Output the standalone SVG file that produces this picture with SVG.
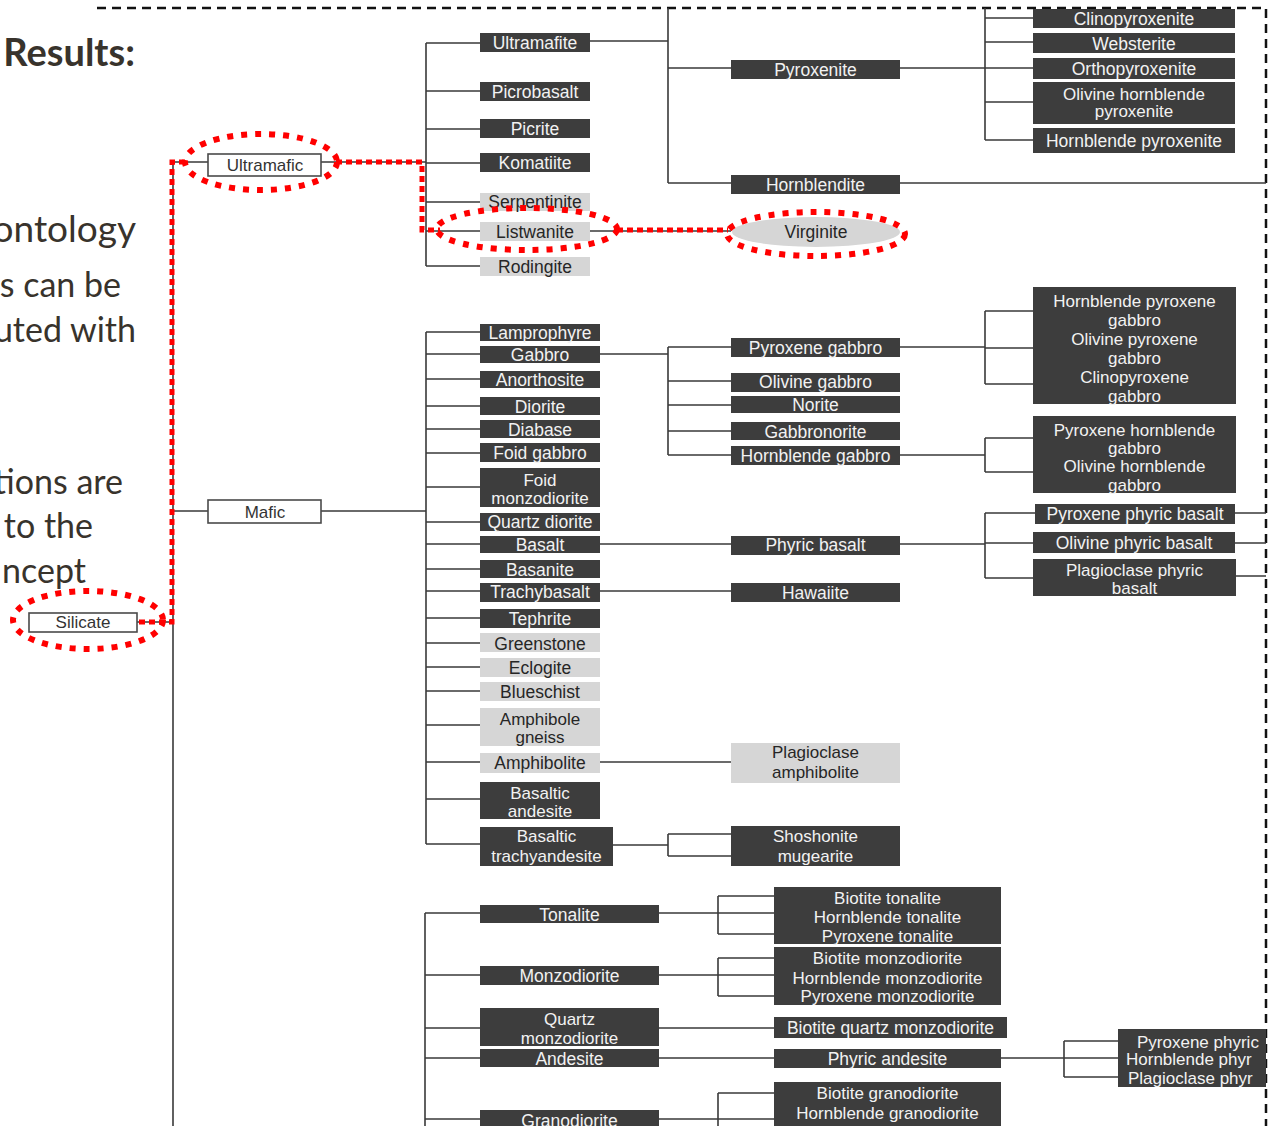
<svg xmlns="http://www.w3.org/2000/svg" width="1274" height="1126" viewBox="0 0 1274 1126">
  <defs>
    <style>
      .slide { font-family: Lato, "Open Sans", sans-serif; fill: #38332c; }
      .n text { font-family: "Liberation Sans", Arial, sans-serif; font-size: 17.5px; text-anchor: middle; }
      .n text.ml { font-size: 17px; }
      .dk rect { fill: #3d3d3d; }
      .dk text { fill: #f2f2f2; }
      .lt rect, .lt ellipse { fill: #d6d6d6; }
      .lt text { fill: #262626; }
      .wt rect { fill: #ffffff; stroke: #4a4a4a; stroke-width: 1.6; }
      .wt text { fill: #333333; font-size: 17px; }
      .ln { fill: none; stroke: #3a3a3a; stroke-width: 1.6; }
      .frame { fill: none; stroke: #111111; stroke-width: 2.5; stroke-dasharray: 9 6; }
      .hl { fill: none; stroke: #ff0000; stroke-width: 6; stroke-dasharray: 6 8; }
      .hlpath { fill: none; stroke: #ff0000; stroke-width: 5; stroke-dasharray: 6 4; }
    </style>
    <clipPath id="frameClip">
      <rect x="0" y="0" width="1266" height="1126"/>
    </clipPath>
  </defs>

  <rect x="0" y="0" width="1274" height="1126" fill="#ffffff"/>

  <!-- slide text beside the tree -->
  <g id="slide-text">
    <text class="slide" x="135" y="66" font-size="38" font-weight="bold" text-anchor="end">Results:</text>
    <text class="slide" x="136" y="242" font-size="37" text-anchor="end">ontology</text>
    <text class="slide" x="121" y="297" font-size="34" text-anchor="end">s can be</text>
    <text class="slide" x="136" y="342" font-size="34" text-anchor="end">uted with</text>
    <text class="slide" x="123" y="494" font-size="34" text-anchor="end">tions are</text>
    <text class="slide" x="93" y="538" font-size="34" text-anchor="end">to the</text>
    <text class="slide" x="86" y="583" font-size="34" text-anchor="end">ncept</text>
  </g>

  <!-- dashed frame -->
  <path class="frame" d="M97,8 H1266 V1126"/>

  <!-- tree connectors -->
  <g id="connectors" class="ln">
    <path d="M137,622 H173 M173,162 V1126 M173,162 H208 M173,511 H208"/>
    <!-- ultramafic branch -->
    <path d="M321,162 H426 M426,43 V266 M426,43 H480 M426,91 H480 M426,129 H480 M426,163 H480 M426,202 H480 M426,231 H480 M426,266 H480"/>
    <path d="M590,41 H668 M668,8 V183 M668,68 H731 M668,183 H731"/>
    <path d="M900,68 H985 M985,8 V140 M985,18 H1033 M985,42 H1033 M985,68 H1033 M985,102 H1033 M985,140 H1033"/>
    <path d="M900,183 H1266"/>
    <path d="M590,231 H731"/>
    <!-- mafic branch -->
    <path d="M321,511 H426 M426,332 V844 M426,332 H480 M426,354 H480 M426,379 H480 M426,406 H480 M426,429 H480 M426,453 H480 M426,487 H480 M426,522 H480 M426,544 H480 M426,569 H480 M426,591 H480 M426,618 H480 M426,643 H480 M426,667 H480 M426,691 H480 M426,725 H480 M426,762 H480 M426,799 H480 M426,844 H480"/>
    <path d="M600,354 H668 M668,347 V455 M668,347 H731 M668,381 H731 M668,405 H731 M668,431 H731 M668,455 H731"/>
    <path d="M900,347 H985 M985,311 V384 M985,311 H1033 M985,348 H1033 M985,384 H1033"/>
    <path d="M900,455 H985 M985,438 V472 M985,438 H1033 M985,472 H1033"/>
    <path d="M600,544 H731 M900,544 H985 M985,513 V578 M985,513 H1035 M985,543 H1033 M985,578 H1033"/>
    <path d="M1235,513 H1266 M1235,543 H1266 M1236,576 H1266"/>
    <path d="M600,591 H731"/>
    <path d="M598,762 H731"/>
    <path d="M613,845 H668 M668,834 V856 M668,834 H731 M668,856 H731"/>
    <!-- lower branch -->
    <path d="M425,913 V1126 M425,913 H480 M425,975 H480 M425,1028 H480 M425,1058 H480 M425,1119 H480"/>
    <path d="M659,913 H774 M718,896 V934 M718,896 H774 M718,934 H774"/>
    <path d="M659,975 H774 M718,958 V996 M718,958 H774 M718,996 H774"/>
    <path d="M659,1028 H774 M659,1058 H774"/>
    <path d="M1001,1058 H1120 M1064,1041 V1077 M1064,1041 H1120 M1064,1077 H1120"/>
    <path d="M659,1119 H774 M718,1093 V1126 M718,1093 H774"/>
  </g>

  <!-- top level -->
  <g id="silicate" class="n wt"><rect x="29" y="613" width="108" height="19"/><text x="83" y="628">Silicate</text></g>
  <g id="ultramafic" class="n wt"><rect x="208" y="154" width="113" height="22"/><text x="265" y="171">Ultramafic</text></g>
  <g id="mafic" class="n wt"><rect x="208" y="500" width="113" height="23"/><text x="265" y="518">Mafic</text></g>

  <!-- ultramafic children -->
  <g id="ultramafite" class="n dk"><rect x="480" y="33" width="110" height="19"/><text x="535" y="49">Ultramafite</text></g>
  <g id="picrobasalt" class="n dk"><rect x="480" y="82" width="110" height="19"/><text x="535" y="98">Picrobasalt</text></g>
  <g id="picrite" class="n dk"><rect x="480" y="119" width="110" height="19"/><text x="535" y="135">Picrite</text></g>
  <g id="komatiite" class="n dk"><rect x="480" y="153" width="110" height="19"/><text x="535" y="169">Komatiite</text></g>
  <g id="serpentinite" class="n lt"><rect x="480" y="193" width="110" height="18"/><text x="535" y="208">Serpentinite</text></g>
  <g id="listwanite" class="n lt"><rect x="480" y="222" width="110" height="19"/><text x="535" y="238">Listwanite</text></g>
  <g id="rodingite" class="n lt"><rect x="480" y="257" width="110" height="19"/><text x="535" y="273">Rodingite</text></g>

  <g id="pyroxenite" class="n dk"><rect x="731" y="60" width="169" height="19"/><text x="815.5" y="76">Pyroxenite</text></g>
  <g id="hornblendite" class="n dk"><rect x="731" y="175" width="169" height="19"/><text x="815.5" y="191">Hornblendite</text></g>
  <g id="virginite" class="n lt"><ellipse cx="816" cy="232" rx="84" ry="15"/><text x="816" y="238">Virginite</text></g>

  <g id="clinopyroxenite" class="n dk"><rect x="1033" y="9" width="202" height="19"/><text x="1134" y="24.5">Clinopyroxenite</text></g>
  <g id="websterite" class="n dk"><rect x="1033" y="33" width="202" height="20"/><text x="1134" y="49.5">Websterite</text></g>
  <g id="orthopyroxenite" class="n dk"><rect x="1033" y="58" width="202" height="21"/><text x="1134" y="75">Orthopyroxenite</text></g>
  <g id="ol-hbl-pyroxenite" class="n dk"><rect x="1033" y="82" width="202" height="42"/><text class="ml" x="1134" y="99.5">Olivine hornblende</text><text class="ml" x="1134" y="117">pyroxenite</text></g>
  <g id="hbl-pyroxenite" class="n dk"><rect x="1033" y="128" width="202" height="25"/><text x="1134" y="146.5">Hornblende pyroxenite</text></g>

  <!-- mafic children -->
  <g id="lamprophyre" class="n dk"><rect x="480" y="324" width="120" height="17"/><text x="540" y="338.5">Lamprophyre</text></g>
  <g id="gabbro" class="n dk"><rect x="480" y="346" width="120" height="17"/><text x="540" y="360.5">Gabbro</text></g>
  <g id="anorthosite" class="n dk"><rect x="480" y="371" width="120" height="17"/><text x="540" y="385.5">Anorthosite</text></g>
  <g id="diorite" class="n dk"><rect x="480" y="397" width="120" height="18"/><text x="540" y="412.5">Diorite</text></g>
  <g id="diabase" class="n dk"><rect x="480" y="420" width="120" height="18"/><text x="540" y="435.5">Diabase</text></g>
  <g id="foid-gabbro" class="n dk"><rect x="480" y="443" width="120" height="19"/><text x="540" y="459">Foid gabbro</text></g>
  <g id="foid-monzodiorite" class="n dk"><rect x="480" y="468" width="120" height="39"/><text class="ml" x="540" y="485.5">Foid</text><text class="ml" x="540" y="504">monzodiorite</text></g>
  <g id="quartz-diorite" class="n dk"><rect x="480" y="513" width="120" height="18"/><text x="540" y="527.5">Quartz diorite</text></g>
  <g id="basalt" class="n dk"><rect x="480" y="536" width="120" height="17"/><text x="540" y="550.5">Basalt</text></g>
  <g id="basanite" class="n dk"><rect x="480" y="560" width="120" height="18"/><text x="540" y="575.5">Basanite</text></g>
  <g id="trachybasalt" class="n dk"><rect x="480" y="583" width="120" height="19"/><text x="540" y="597.5">Trachybasalt</text></g>
  <g id="tephrite" class="n dk"><rect x="480" y="609" width="120" height="19"/><text x="540" y="624.5">Tephrite</text></g>
  <g id="greenstone" class="n lt"><rect x="480" y="633" width="120" height="19"/><text x="540" y="649.5">Greenstone</text></g>
  <g id="eclogite" class="n lt"><rect x="480" y="658" width="120" height="19"/><text x="540" y="673.5">Eclogite</text></g>
  <g id="blueschist" class="n lt"><rect x="480" y="682" width="120" height="19"/><text x="540" y="697.5">Blueschist</text></g>
  <g id="amphibole-gneiss" class="n lt"><rect x="480" y="708" width="120" height="38"/><text class="ml" x="540" y="724.5">Amphibole</text><text class="ml" x="540" y="743">gneiss</text></g>
  <g id="amphibolite" class="n lt"><rect x="480" y="753" width="120" height="20"/><text x="540" y="768.5">Amphibolite</text></g>
  <g id="basaltic-andesite" class="n dk"><rect x="480" y="782" width="120" height="37"/><text class="ml" x="540" y="798.5">Basaltic</text><text class="ml" x="540" y="817">andesite</text></g>
  <g id="basaltic-trachyandesite" class="n dk"><rect x="480" y="827" width="133" height="39"/><text class="ml" x="546.5" y="841.5">Basaltic</text><text class="ml" x="546.5" y="861.5">trachyandesite</text></g>

  <g id="pyroxene-gabbro" class="n dk"><rect x="731" y="338" width="169" height="19"/><text x="815.5" y="353.5">Pyroxene gabbro</text></g>
  <g id="olivine-gabbro" class="n dk"><rect x="731" y="373" width="169" height="19"/><text x="815.5" y="387.5">Olivine gabbro</text></g>
  <g id="norite" class="n dk"><rect x="731" y="396" width="169" height="17"/><text x="815.5" y="410.5">Norite</text></g>
  <g id="gabbronorite" class="n dk"><rect x="731" y="422" width="169" height="18"/><text x="815.5" y="437.5">Gabbronorite</text></g>
  <g id="hornblende-gabbro" class="n dk"><rect x="731" y="446" width="169" height="19"/><text x="815.5" y="461.5">Hornblende gabbro</text></g>
  <g id="phyric-basalt" class="n dk"><rect x="731" y="536" width="169" height="19"/><text x="815.5" y="550.5">Phyric basalt</text></g>
  <g id="hawaiite" class="n dk"><rect x="731" y="583" width="169" height="19"/><text x="815.5" y="598.5">Hawaiite</text></g>
  <g id="plagioclase-amphibolite" class="n lt"><rect x="731" y="743" width="169" height="40"/><text class="ml" x="815.5" y="757.5">Plagioclase</text><text class="ml" x="815.5" y="777.5">amphibolite</text></g>
  <g id="shoshonite-mugearite" class="n dk"><rect x="731" y="826" width="169" height="40"/><text class="ml" x="815.5" y="841.5">Shoshonite</text><text class="ml" x="815.5" y="861.5">mugearite</text></g>

  <g id="pyroxene-gabbro-types" class="n dk"><rect x="1033" y="287" width="203" height="117"/>
    <text class="ml" x="1134.5" y="306.5">Hornblende pyroxene</text><text class="ml" x="1134.5" y="326">gabbro</text>
    <text class="ml" x="1134.5" y="345">Olivine pyroxene</text><text class="ml" x="1134.5" y="364">gabbro</text>
    <text class="ml" x="1134.5" y="383">Clinopyroxene</text><text class="ml" x="1134.5" y="402">gabbro</text></g>
  <g id="hornblende-gabbro-types" class="n dk"><rect x="1033" y="416" width="203" height="77"/>
    <text class="ml" x="1134.5" y="436">Pyroxene hornblende</text><text class="ml" x="1134.5" y="453.5">gabbro</text>
    <text class="ml" x="1134.5" y="471.5">Olivine hornblende</text><text class="ml" x="1134.5" y="491">gabbro</text></g>
  <g id="pyroxene-phyric-basalt" class="n dk"><rect x="1035" y="504" width="200" height="20"/><text x="1135" y="519.5">Pyroxene phyric basalt</text></g>
  <g id="olivine-phyric-basalt" class="n dk"><rect x="1033" y="532" width="202" height="21"/><text x="1134" y="549">Olivine phyric basalt</text></g>
  <g id="plagioclase-phyric-basalt" class="n dk"><rect x="1033" y="559" width="203" height="37"/><text class="ml" x="1134.5" y="576">Plagioclase phyric</text><text class="ml" x="1134.5" y="594">basalt</text></g>

  <!-- lower branch -->
  <g id="tonalite" class="n dk"><rect x="480" y="905" width="179" height="18"/><text x="569.5" y="920.5">Tonalite</text></g>
  <g id="monzodiorite" class="n dk"><rect x="480" y="966" width="179" height="19"/><text x="569.5" y="981.5">Monzodiorite</text></g>
  <g id="quartz-monzodiorite" class="n dk"><rect x="480" y="1008" width="179" height="38"/><text class="ml" x="569.5" y="1024.5">Quartz</text><text class="ml" x="569.5" y="1044">monzodiorite</text></g>
  <g id="andesite" class="n dk"><rect x="480" y="1049" width="179" height="18"/><text x="569.5" y="1064.5">Andesite</text></g>
  <g id="granodiorite" class="n dk"><rect x="480" y="1110" width="179" height="22"/><text x="569.5" y="1126.5">Granodiorite</text></g>

  <g id="tonalite-types" class="n dk"><rect x="774" y="887" width="227" height="57"/>
    <text class="ml" x="887.5" y="903.5">Biotite tonalite</text><text class="ml" x="887.5" y="922.5">Hornblende tonalite</text><text class="ml" x="887.5" y="942">Pyroxene tonalite</text></g>
  <g id="monzodiorite-types" class="n dk"><rect x="774" y="947" width="227" height="58"/>
    <text class="ml" x="887.5" y="963.5">Biotite monzodiorite</text><text class="ml" x="887.5" y="983.5">Hornblende monzodiorite</text><text class="ml" x="887.5" y="1001.5">Pyroxene monzodiorite</text></g>
  <g id="biotite-quartz-monzodiorite" class="n dk"><rect x="774" y="1017" width="233" height="21"/><text x="890.5" y="1034">Biotite quartz monzodiorite</text></g>
  <g id="phyric-andesite" class="n dk"><rect x="774" y="1049" width="227" height="19"/><text x="887.5" y="1064.5">Phyric andesite</text></g>
  <g id="granodiorite-types" class="n dk"><rect x="774" y="1082" width="227" height="58"/>
    <text class="ml" x="887.5" y="1098.5">Biotite granodiorite</text><text class="ml" x="887.5" y="1118.5">Hornblende granodiorite</text><text class="ml" x="887.5" y="1138">Pyroxene granodiorite</text></g>
  <g id="phyric-andesite-types" class="n dk" clip-path="url(#frameClip)"><rect x="1118" y="1029" width="160" height="58"/>
    <text class="ml" x="1137" y="1048" style="text-anchor:start">Pyroxene phyric</text>
    <text class="ml" x="1126" y="1065" style="text-anchor:start">Hornblende phyr</text>
    <text class="ml" x="1128" y="1084" style="text-anchor:start">Plagioclase phyr</text></g>

  <!-- highlighted path in red dots -->
  <g id="highlight">
    <path class="hlpath" d="M139,622 H172 V162 H188"/>
    <path class="hlpath" d="M336,162 H422 V230 H440"/>
    <path class="hlpath" d="M617,230 H728"/>
    <ellipse class="hl" cx="261" cy="162" rx="76" ry="28"/>
    <ellipse class="hl" cx="88" cy="620" rx="75" ry="29"/>
    <ellipse class="hl" cx="527" cy="229" rx="90" ry="21"/>
    <ellipse class="hl" cx="816" cy="234" rx="89" ry="22"/>
  </g>
</svg>
